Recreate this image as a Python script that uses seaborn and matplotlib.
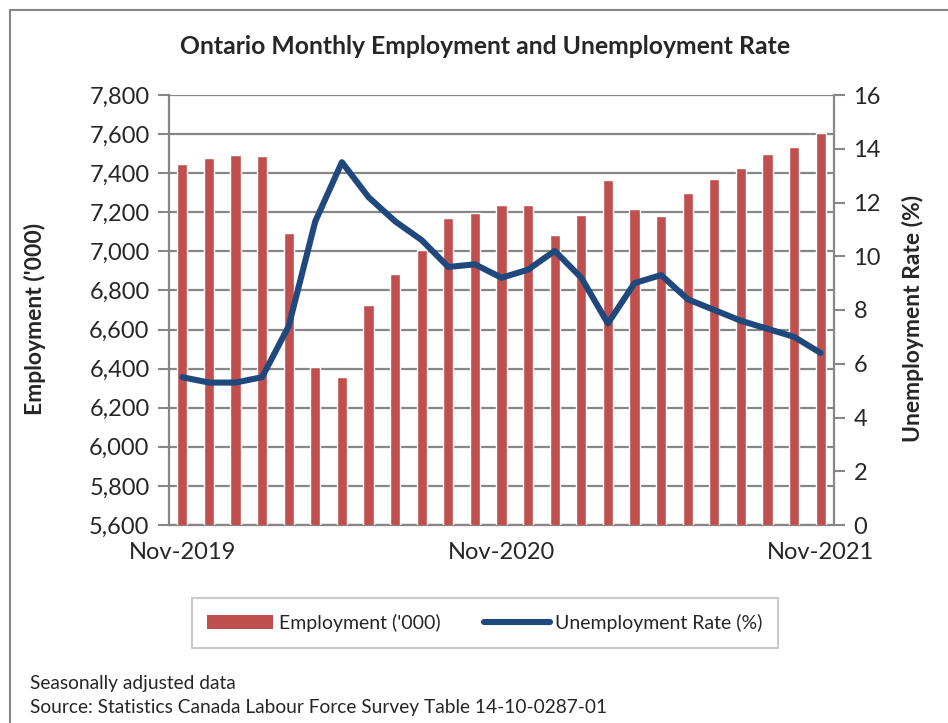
import numpy as np
import pandas as pd
import matplotlib
matplotlib.use('Agg')
import matplotlib.pyplot as plt
from matplotlib.lines import Line2D
from matplotlib.patches import Patch
import seaborn as sns

# Datos (Nov-2019 a Nov-2021)
meses = ['Nov-2019', 'Dec-2019', 'Jan-2020', 'Feb-2020', 'Mar-2020', 'Apr-2020',
         'May-2020', 'Jun-2020', 'Jul-2020', 'Aug-2020', 'Sep-2020', 'Oct-2020',
         'Nov-2020', 'Dec-2020', 'Jan-2021', 'Feb-2021', 'Mar-2021', 'Apr-2021',
         'May-2021', 'Jun-2021', 'Jul-2021', 'Aug-2021', 'Sep-2021', 'Oct-2021',
         'Nov-2021']
empleo = [7447, 7476, 7492, 7488, 7096, 6409, 6358, 6726, 6884, 7006, 7169, 7196,
          7237, 7237, 7082, 7185, 7365, 7215, 7181, 7299, 7370, 7425, 7500, 7534,
          7606]
desempleo = [5.5, 5.3, 5.3, 5.5, 7.4, 11.3, 13.5, 12.2, 11.3, 10.6, 9.6, 9.7,
             9.2, 9.5, 10.2, 9.2, 7.5, 9.0, 9.3, 8.4, 8.0, 7.6, 7.3, 7.0, 6.4]
etiquetas_x = ['Nov-2019', 'Nov-2020', 'Nov-2021']

df = pd.DataFrame({'mes': meses, 'empleo': empleo, 'desempleo': desempleo,
                   'pos': np.arange(len(meses))})

rojo = '#C0504D'
azul = '#1F497D'
gris = '#868686'

sns.set_style('white')
plt.rcParams['font.family'] = ['Lato', 'DejaVu Sans']

fig = plt.figure(figsize=(9.48, 7.23), dpi=100)
ax = fig.add_axes([169 / 948, 1 - 525 / 723, (834 - 169) / 948, (525 - 95) / 723])

sns.barplot(data=df, x='mes', y='empleo', color=rojo, width=0.38, ax=ax,
            saturation=1, zorder=3)
ax.set_ylim(5600, 7800)
ax.set_xlim(-0.5, len(meses) - 0.5)
ax.set_yticks(np.arange(5600, 7801, 200))
ax.set_yticklabels([f'{v:,}' for v in range(5600, 7801, 200)], fontsize=17)
ax.grid(axis='y', color=gris, linewidth=1.6, zorder=0)
ax.set_axisbelow(True)

# etiquetas del eje x
ax.set_xticks([0, 12, 24])
ax.set_xticklabels(etiquetas_x, fontsize=17)
ax.tick_params(axis='x', length=0, pad=12)
ax.set_xticks(np.arange(-0.5, len(meses), 1), minor=True)
ax.tick_params(axis='x', which='minor', length=8, width=1.5, color=gris, direction='out')
ax.tick_params(axis='y', length=8, width=1.5, color=gris, direction='out', left=True, pad=6)
ax.set_xlabel('')
ax.set_ylabel("Employment ('000)", fontsize=16.5, fontweight='bold')
ax.yaxis.set_label_coords(-0.185, 0.48)

for lado in ['top', 'right']:
    ax.spines[lado].set_visible(False)
for lado in ['left', 'bottom']:
    ax.spines[lado].set_color(gris)
    ax.spines[lado].set_linewidth(1.6)

ax2 = ax.twinx()
sns.lineplot(data=df, x='pos', y='desempleo', color=azul, linewidth=4.4, ax=ax2,
             zorder=4)
ax2.set_ylim(0, 16)
ax2.set_xlim(-0.5, len(meses) - 0.5)
ax2.set_yticks(np.arange(0, 17, 2))
ax2.set_yticklabels([str(v) for v in range(0, 17, 2)], fontsize=17)
ax2.tick_params(axis='y', length=8, width=1.5, color=gris, direction='out', right=True, pad=6)
ax2.set_ylabel('Unemployment Rate (%)', fontsize=16.5, fontweight='bold')
ax2.yaxis.set_label_coords(1.102, 0.48)
ax2.grid(False)
for lado in ['top', 'left', 'bottom']:
    ax2.spines[lado].set_visible(False)
ax2.spines['right'].set_color(gris)
ax2.spines['right'].set_linewidth(1.6)

fig.text(485 / 948, 1 - 47 / 723, 'Ontario Monthly Employment and Unemployment Rate',
         ha='center', va='center', fontsize=17.8, fontweight='bold')

manijas = [Patch(facecolor=rojo, edgecolor='none', label="Employment ('000)"),
           Line2D([0], [0], color=azul, linewidth=4.4, solid_capstyle='round',
                  label='Unemployment Rate (%)')]
leg = fig.legend(handles=manijas, loc='center', bbox_to_anchor=(485 / 948, 1 - 623 / 723),
                 ncol=2, frameon=True, fancybox=False, fontsize=14, handlelength=3.4,
                 handletextpad=0.3, columnspacing=2.2, borderpad=0.8, borderaxespad=0)
leg.get_frame().set_edgecolor('#BFBFBF')
leg.get_frame().set_linewidth(1.5)

fig.text(30 / 948, 1 - 684 / 723, 'Seasonally adjusted data', fontsize=13.8, va='center')
fig.text(30 / 948, 1 - 707 / 723, 'Source: Statistics Canada Labour Force Survey Table 14-10-0287-01',
         fontsize=13.8, va='center')

# marco exterior
fig.add_artist(Line2D([10 / 948, 1], [1 - 10 / 723, 1 - 10 / 723], color=gris,
                      linewidth=1.5, transform=fig.transFigure))
fig.add_artist(Line2D([10 / 948, 10 / 948], [0, 1 - 10 / 723], color=gris,
                      linewidth=1.5, transform=fig.transFigure))

fig.savefig('out.png', dpi=100)
